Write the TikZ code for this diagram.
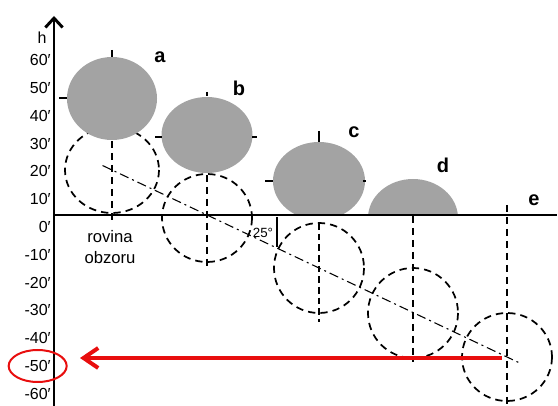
\documentclass[tikz,border=0pt]{standalone}
\usepackage{fontspec}
\setmainfont{Liberation Sans}
\usetikzlibrary{arrows.meta,calc}
\definecolor{sungrey}{RGB}{163,163,163}
\definecolor{arrowred}{RGB}{232,14,14}

\begin{document}
\begin{tikzpicture}[x=0.75pt,y=-0.75pt,
    disc/.style={fill=sungrey},
    ghost/.style={draw,line width=1.3pt,dash pattern=on 5.5pt off 3.8pt},
    plumb/.style={line width=2pt,dash pattern=on 5.5pt off 3.5pt},
    thinplumb/.style={line width=0.8pt,dash pattern=on 5pt off 3pt},
    track/.style={line width=0.8pt,dash pattern=on 7pt off 3pt on 1.5pt off 3pt},
    notch/.style={line width=0.9pt},
    letter/.style={inner sep=0pt,font=\fontsize{15}{17}\selectfont\bfseries},
    scalelbl/.style={anchor=east,inner sep=0pt,font=\fontsize{12}{14}\selectfont}]
			\useasboundingbox (0,0) rectangle (558,406);
			
			%%%%% true and apparent centres %%%%%
			\coordinate (Ta) at (112,170);
			\coordinate (Tb) at (207,218);
			\coordinate (Tc) at (319,268);
			\coordinate (Td) at (413,313);
			\coordinate (Te) at (507,357);
			\coordinate (Aa) at (112,98.5);
			\coordinate (Ab) at (207,135);
			\coordinate (Ac) at (319,181);
			\coordinate (Ad) at (413,218);
			
			%%%%% true positions %%%%%
			\draw[ghost] (Ta) ellipse [x radius=47,y radius=43];
			\draw[ghost] (Tb) ellipse [x radius=45,y radius=44];
			\draw[ghost] (Tc) ellipse [x radius=45,y radius=45];
			\draw[ghost] (Td) ellipse [x radius=45,y radius=45];
			\draw[ghost] (Te) ellipse [x radius=45,y radius=44];
			
			%%%%% apparent positions %%%%%
			\fill[disc] (Aa) ellipse [x radius=45,y radius=41.5];
			\fill[disc] (Ab) ellipse [x radius=45.5,y radius=38];
			\begin{scope}
				\clip (0,0) rectangle (558,215);
				\fill[disc] (Ac) ellipse [x radius=46,y radius=39];
				\fill[disc] (Ad) ellipse [x radius=45,y radius=39];
			\end{scope}
			
			\draw[notch] (112,50) -- (112,57);
			\draw[notch] (59,98) -- (67,98);
			\draw[notch] (207,92) -- (207,96);
			\draw[notch] (155,137) -- (162,137);
			\draw[notch] (252,137) -- (257,137);
			\draw[notch] (319,131) -- (319,142);
			\draw[notch] (265,181) -- (273,181);
			\draw[notch] (363,181) -- (366,181);
			
			\draw[plumb] (112,141) -- (112,221);
			\draw[plumb] (207,175) -- (207,266);
			\draw[thinplumb] (319,223) -- (319,322);
			\draw[plumb] (413,216) -- (413,362);
			\draw[plumb] (507,205) -- (507,406);
			
			\draw[track] ($(Ta)!-0.024!(Te)$) -- ($(Te)!-0.035!(Ta)$);
			
			%%%%% horizon and axis %%%%%
			\draw[line width=1.5pt] (54,215) -- (557,215);
			\draw[line width=2.2pt,-{Straight Barb[length=7pt,width=13pt]}] (54,406) -- (54,16);
			
			\foreach \m in {60,50,...,-60}
				\node[scalelbl] (min\m) at (51,{227-2.78*\m}) {\m{}′};
			\node[inner sep=0pt,font=\fontsize{12}{14}\selectfont] (hlab) at (42,38) {h};
			\node[inner sep=0pt,align=center,font=\fontsize{12.5}{15.75}\selectfont] (plane) at (110,247) {rovina\\obzoru};
			
			\node[letter] (la) at (160,57) {a};
			\node[letter] (lb) at (239,88) {b};
			\node[letter] (lc) at (354,132) {c};
			\node[letter] (ld) at (443,165) {d};
			\node[letter] (le) at (534,200) {e};
			
			\node[inner sep=0pt,font=\fontsize{10}{12}\selectfont] (ang) at (263,233) {25°};
			\draw[notch] (277,217) -- (277,247);
			
			%%%%% refraction at the horizon %%%%%
			\draw[arrowred,line width=1.5pt] (min-50.center) ellipse [x radius=29,y radius=16];
			\coordinate (sunset) at (502,358);
			\coordinate (seen) at (80,358);
			\draw[arrowred,line width=3pt,-{Straight Barb[length=11pt,width=15pt]}] (sunset) -- (seen);
			
		\end{tikzpicture}
\end{document}
